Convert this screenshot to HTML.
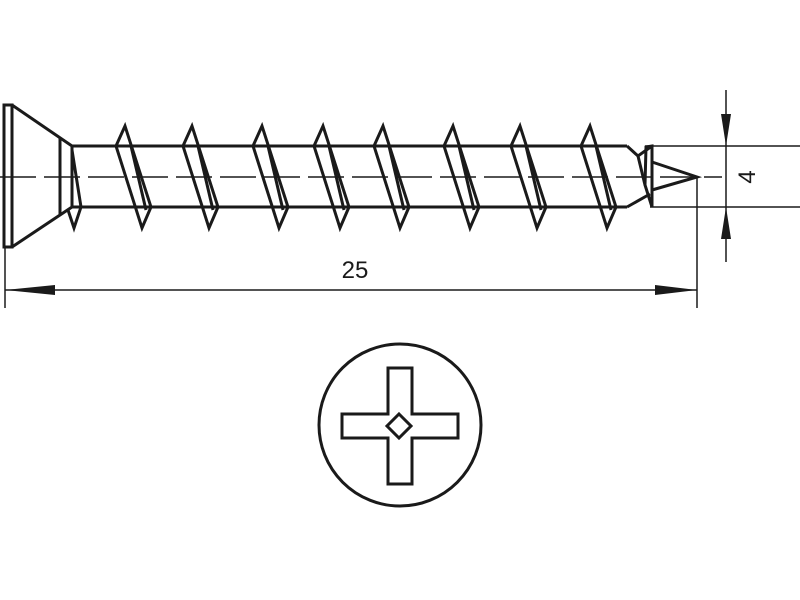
<!DOCTYPE html>
<html><head><style>body{margin:0;background:#fff}svg{display:block}</style></head><body>
<svg width="800" height="600" viewBox="0 0 800 600" xmlns="http://www.w3.org/2000/svg">
<g fill="none" stroke="#1a1a1a" stroke-width="3" stroke-linejoin="miter">
<!-- head -->
<rect x="4" y="105" width="8" height="142"/>
<polyline points="12,105 72,146"/>
<polyline points="12,247 72,207"/>
<line x1="60" y1="138" x2="60" y2="215"/>
<line x1="72" y1="146" x2="72" y2="207"/>
<!-- shank -->
<line x1="72" y1="146" x2="627" y2="146"/>
<line x1="72" y1="207" x2="627" y2="207"/>
<polyline points="72,150 81,207 74,228 68,210"/>
<!-- threads -->
<g id="t">
<polygon points="116,146 125,126 151,207 142,228"/>
<line x1="131" y1="146" x2="146" y2="210"/>
</g>
<use href="#t" x="67"/>
<use href="#t" x="137"/>
<use href="#t" x="198"/>
<use href="#t" x="258"/>
<use href="#t" x="328"/>
<use href="#t" x="395"/>
<use href="#t" x="465"/>
<!-- tip -->
<polyline points="627,146 638,156 652,146"/>
<polyline points="627,207 650,194"/>
<polygon points="646,147 652,146 652,188 652,207 645,185"/>
<polyline points="652,162 697,177 652,190"/>
<polyline points="638,156 645,185"/>
</g>
<g stroke="#1a1a1a" stroke-width="1.5" fill="none">
<line x1="0" y1="177" x2="722" y2="177" stroke-dasharray="36 8"/>
<line x1="645" y1="146" x2="800" y2="146"/>
<line x1="650" y1="207" x2="800" y2="207"/>
<line x1="726" y1="90" x2="726" y2="262"/>
<line x1="697" y1="177" x2="697" y2="308"/>
<line x1="5" y1="247" x2="5" y2="308"/>
<line x1="5" y1="290" x2="697" y2="290"/>
</g>
<g fill="#1a1a1a">
<polygon points="726,146 721,114 731,114"/>
<polygon points="726,207 721,239 731,239"/>
<polygon points="5,290 55,285 55,295"/>
<polygon points="697,290 655,285 655,295"/>
</g>
<text x="355" y="278" font-family="Liberation Sans, sans-serif" font-size="24" text-anchor="middle" fill="#1a1a1a">25</text>
<text transform="translate(738,177) rotate(-90)" font-family="Liberation Sans, sans-serif" font-size="24" text-anchor="middle" dominant-baseline="hanging" fill="#1a1a1a">4</text>
<!-- head view -->
<g fill="none" stroke="#1a1a1a" stroke-width="3">
<circle cx="400" cy="425" r="81"/>
<polygon points="388,368 412,368 412,414 458,414 458,438 412,438 412,484 388,484 388,438 342,438 342,414 388,414"/>
<polygon points="399,414 411,426 399,438 387,426"/>
</g>
</svg>
</body></html>
